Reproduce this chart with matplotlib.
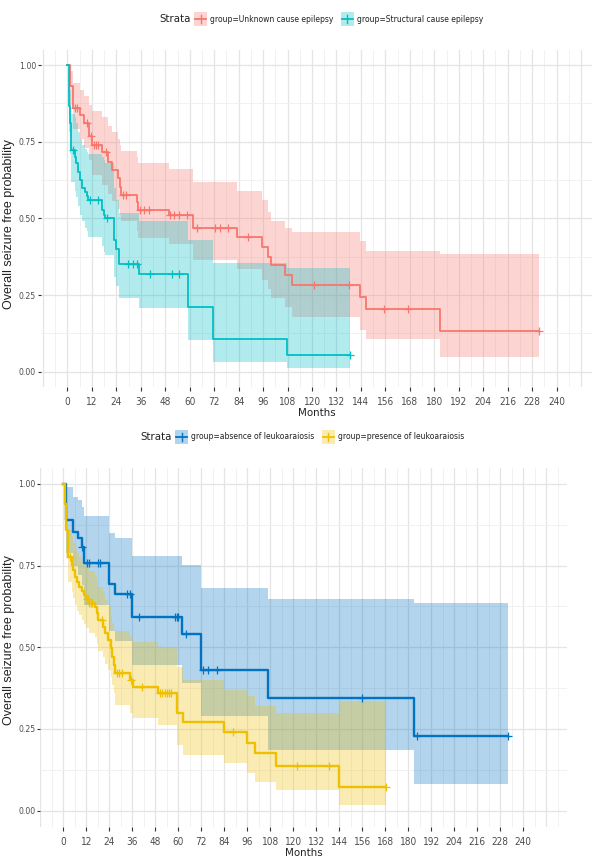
import matplotlib
matplotlib.use("Agg")
import matplotlib.pyplot as plt
import numpy as np
from matplotlib import font_manager

# ---------------- data: top panel (aetiology) ----------------
unk_times = [0, 1.0, 2.9, 5.9, 7.9, 10.6, 12.0, 16.9, 20.1, 21.8, 25.0, 25.9, 26.3, 34.0, 34.5,
             49.6, 61.8, 83.4, 95.3, 98.6, 99.7, 106.8, 110.0, 143.6, 146.3, 182.8]
unk_end = 231.6
unk_surv = [1.0, 0.93, 0.86, 0.837, 0.81, 0.77, 0.74, 0.717, 0.685, 0.658, 0.63, 0.603, 0.576, 0.554, 0.527,
            0.511, 0.467, 0.44, 0.408, 0.375, 0.348, 0.315, 0.283, 0.243, 0.203, 0.133]
unk_upper = [1.0, 0.98, 0.94, 0.92, 0.90, 0.87, 0.85, 0.83, 0.80, 0.78, 0.76, 0.74, 0.72, 0.70, 0.68,
             0.66, 0.62, 0.59, 0.56, 0.52, 0.49, 0.47, 0.456, 0.427, 0.395, 0.384]
unk_lower = [1.0, 0.87, 0.79, 0.76, 0.73, 0.69, 0.64, 0.61, 0.58, 0.555, 0.53, 0.51, 0.49, 0.46, 0.435,
             0.415, 0.365, 0.335, 0.30, 0.27, 0.24, 0.21, 0.178, 0.136, 0.106, 0.049]
unk_censor = [3.8, 4.6, 9.5, 11.4, 13.1, 14.2, 15.2, 19.0, 27.1, 28.7, 35.7, 37.5, 39.8, 50.4, 52.5,
              54.5, 58.6, 63.4, 72.4, 74.8, 78.9, 88.4, 121.0, 138.3, 155.5, 167.3, 231.6]

str_times = [0, 0.5, 1.0, 1.8, 3.5, 4.3, 5.4, 6.2, 7.0, 8.7, 9.5, 10.3, 16.9, 17.7, 18.5, 23.0, 23.8,
             25.2, 35.0, 59.3, 71.6, 107.6]
str_end = 138.6
str_surv = [1.0, 0.868, 0.81, 0.722, 0.70, 0.68, 0.65, 0.625, 0.60, 0.587, 0.573, 0.56, 0.527, 0.51, 0.50,
            0.43, 0.40, 0.351, 0.318, 0.212, 0.107, 0.054]
str_upper = [1.0, 0.96, 0.92, 0.84, 0.83, 0.81, 0.78, 0.76, 0.74, 0.725, 0.715, 0.71, 0.70, 0.69, 0.68,
             0.60, 0.56, 0.518, 0.49, 0.43, 0.355, 0.337]
str_lower = [1.0, 0.78, 0.71, 0.62, 0.59, 0.57, 0.54, 0.51, 0.49, 0.47, 0.46, 0.44, 0.41, 0.39, 0.38,
             0.31, 0.28, 0.24, 0.207, 0.103, 0.033, 0.011]
str_censor = [2.7, 11.1, 15.2, 19.3, 29.9, 32.1, 33.9, 40.4, 51.2, 54.9, 138.6]

# ---------------- data: bottom panel (leukoaraiosis) ----------------
abs_times = [0, 1.4, 5.2, 7.8, 9.6, 10.8, 24.0, 27.0, 35.7, 61.7, 71.7, 107.0, 182.9]
abs_end = 232.2
abs_surv = [1.0, 0.889, 0.854, 0.833, 0.808, 0.757, 0.695, 0.663, 0.594, 0.541, 0.431, 0.346, 0.230]
abs_upper = [1.0, 0.99, 0.96, 0.95, 0.93, 0.902, 0.85, 0.833, 0.78, 0.752, 0.68, 0.649, 0.637]
abs_lower = [1.0, 0.79, 0.75, 0.72, 0.69, 0.63, 0.55, 0.52, 0.446, 0.39, 0.29, 0.186, 0.082]
abs_censor = [9.6, 12.6, 13.4, 18.0, 18.9, 33.1, 34.6, 39.7, 58.3, 59.2, 60.1, 64.0, 72.7, 75.7, 80.0,
              155.6, 184.3, 232.2]

pre_times = [0, 0.7, 1.2, 2.3, 4.4, 5.2, 6.1, 7.0, 8.4, 9.6, 10.8, 12.0, 13.5, 16.5, 17.4, 18.3, 20.5,
             21.8, 23.5, 24.7, 25.5, 26.2, 27.0, 34.8, 36.5, 49.3, 59.2, 62.4, 83.8, 95.7, 100.0,
             110.9, 144.0]
pre_end = 168.3
pre_surv = [1.0, 0.94, 0.86, 0.777, 0.752, 0.736, 0.716, 0.70, 0.685, 0.673, 0.66, 0.648, 0.637, 0.624,
            0.604, 0.583, 0.563, 0.543, 0.522, 0.497, 0.47, 0.445, 0.42, 0.40, 0.38, 0.36, 0.30, 0.27,
            0.242, 0.206, 0.175, 0.138, 0.071]
pre_upper = [1.0, 1.0, 0.93, 0.86, 0.84, 0.82, 0.80, 0.79, 0.775, 0.765, 0.755, 0.745, 0.735, 0.72,
             0.70, 0.685, 0.665, 0.645, 0.625, 0.60, 0.575, 0.55, 0.55, 0.53, 0.517, 0.497, 0.44, 0.40,
             0.37, 0.35, 0.32, 0.298, 0.335]
pre_lower = [1.0, 0.87, 0.78, 0.70, 0.67, 0.65, 0.63, 0.61, 0.60, 0.585, 0.57, 0.56, 0.545, 0.53,
             0.51, 0.49, 0.47, 0.45, 0.43, 0.41, 0.385, 0.36, 0.323, 0.30, 0.283, 0.263, 0.20, 0.17,
             0.145, 0.114, 0.088, 0.063, 0.018]
pre_censor = [3.5, 12.5, 13.0, 13.6, 14.2, 14.8, 20.0, 28.0, 29.0, 30.5, 35.5, 40.8, 50.4, 51.6, 52.8,
              54.0, 55.2, 56.4, 88.7, 121.7, 138.8, 168.3]

x_breaks = list(range(0, 241, 12))
y_breaks = [0.00, 0.25, 0.50, 0.75, 1.00]
y_labels = ["0.00", "0.25", "0.50", "0.75", "1.00"]

top_legend = ["group=Unknown cause epilepsy", "group=Structural cause epilepsy"]
bottom_legend = ["group=absence of leukoaraiosis", "group=presence of leukoaraiosis"]
y_title = "Overall seizure free probability"

# ---------------- fonts ----------------
entries = font_manager.fontManager.ttflist
names = {f.name for f in entries}
cond_dejavu = any(f.name == "DejaVu Sans" and str(f.stretch) in ("condensed", "semi-condensed")
                  for f in entries)
if "Liberation Sans Narrow" in names:
    NARROW = dict(family=["Liberation Sans Narrow", "DejaVu Sans"])
elif cond_dejavu:
    NARROW = dict(family=["DejaVu Sans"], stretch="condensed")
else:
    NARROW = dict(family=["Liberation Sans", "DejaVu Sans"])
SANS = dict(family=["Liberation Sans", "DejaVu Sans"])

# ---------------- figure ----------------
W, H = 592, 860
fig = plt.figure(figsize=(W / 100, H / 100), dpi=100)
fig.patch.set_facecolor("white")
renderer = fig.canvas.get_renderer()

def px_axes(left, right, top, bottom):
    return fig.add_axes([left / W, 1 - bottom / H, (right - left) / W, (bottom - top) / H])

def step_arrays(times, end, vals):
    t = np.array(list(times) + [end], dtype=float)
    v = np.array(list(vals) + [vals[-1]], dtype=float)
    return t, v

def surv_at(times, vals, x):
    idx = np.searchsorted(np.array(times), x, side="right") - 1
    return np.array(vals)[idx]

def draw_group(ax, times, end, surv, upper, lower, censor, color, lw, ms):
    t, s = step_arrays(times, end, surv)
    _, u = step_arrays(times, end, upper)
    _, l = step_arrays(times, end, lower)
    ax.fill_between(t, l, u, step="post", color=color, alpha=0.3, lw=0, zorder=2)
    ax.step(t, s, where="post", color=color, lw=lw, zorder=4)
    cy = surv_at(times, surv, np.array(censor))
    ax.plot(censor, cy, ls="none", marker="+", color=color, ms=ms, mew=0.9, zorder=5)

def style_axes(ax, xlim, ylab_center_px):
    ax.set_xlim(*xlim)
    ax.set_ylim(-0.05, 1.05)
    for sp in ax.spines.values():
        sp.set_visible(False)
    ax.set_facecolor("white")
    for xv in np.arange(-12, xlim[1] + 1, 6):
        major = (xv % 12 == 0)
        ax.axvline(xv, color="#E4E4E4" if major else "#EFEFEF", lw=0.9 if major else 0.6, zorder=0)
    for yv in np.arange(0, 1.01, 0.125):
        major = abs((yv / 0.25) - round(yv / 0.25)) < 1e-6
        ax.axhline(yv, color="#E4E4E4" if major else "#EFEFEF", lw=0.9 if major else 0.6, zorder=0)
    ax.set_xticks(x_breaks)
    ax.set_xticklabels([str(v) for v in x_breaks], fontsize=7.2, color="#4D4D4D", **NARROW)
    ax.set_yticks(y_breaks)
    ax.set_yticklabels(y_labels, fontsize=6.2, color="#4D4D4D", **NARROW)
    ax.tick_params(axis="x", length=3, width=0.8, color="#333333", pad=4, direction="out")
    ax.tick_params(axis="y", length=2.5, width=0.8, color="#333333", pad=1.2, direction="out")
    ax.set_xlabel("Months", fontsize=8.2, color="#222222", labelpad=1, **NARROW)
    fig.text(9.5 / W, 1 - ylab_center_px / H, y_title, rotation=90, fontsize=9.0,
             color="#222222", ha="center", va="center", **SANS)

def key(x_px, y_px, color):
    kw, kh = 13, 14
    fig.patches.append(plt.Rectangle((x_px / W, 1 - (y_px + kh / 2) / H), kw / W, kh / H,
                                     transform=fig.transFigure, color=color, alpha=0.3, lw=0))
    fig.lines.append(plt.Line2D([(x_px + 1) / W, (x_px + kw - 1) / W], [1 - y_px / H] * 2,
                                transform=fig.transFigure, color=color, lw=1.3))
    fig.lines.append(plt.Line2D([(x_px + kw / 2) / W] * 2, [1 - (y_px - 4) / H, 1 - (y_px + 4) / H],
                                transform=fig.transFigure, color=color, lw=1.0))

def legend_row(y_px, center_px, labels, colors):
    items = []
    t0 = fig.text(0, 1 - y_px / H, "Strata", fontsize=8.2, va="center", ha="left",
                  color="#222222", **NARROW)
    items.append(("text", t0, t0.get_window_extent(renderer).width))
    for lab, col in zip(labels, colors):
        items.append(("key", col, 13))
        t = fig.text(0, 1 - y_px / H, lab, fontsize=6.1, va="center", ha="left",
                     color="#222222", **NARROW)
        items.append(("text", t, t.get_window_extent(renderer).width))
    gaps = [4, 3, 7, 3]
    total = sum(it[2] for it in items) + sum(gaps)
    x = center_px - total / 2
    for i, it in enumerate(items):
        if it[0] == "text":
            it[1].set_x(x / W)
        else:
            key(x, y_px, it[1])
        x += it[2] + (gaps[i] if i < len(gaps) else 0)

# ---------------- top panel ----------------
RED = "#F8766D"
TEAL = "#00BFC4"
ax1 = px_axes(41, 592, 49.7, 387)
style_axes(ax1, (-13, 257.4), 224)
draw_group(ax1, unk_times, unk_end, unk_surv, unk_upper, unk_lower, unk_censor, RED, 1.3, 5.5)
draw_group(ax1, str_times, str_end, str_surv, str_upper, str_lower, str_censor, TEAL, 1.3, 5.5)
legend_row(19, 321, top_legend, [RED, TEAL])

# ---------------- bottom panel ----------------
BLUE = "#0073C2"
YEL = "#EFC000"
ax2 = px_axes(40.3, 567, 467.6, 827)
style_axes(ax2, (-12, 262.8), 640)
draw_group(ax2, abs_times, abs_end, abs_surv, abs_upper, abs_lower, abs_censor, BLUE, 1.7, 6)
draw_group(ax2, pre_times, pre_end, pre_surv, pre_upper, pre_lower, pre_censor, YEL, 1.7, 6)
legend_row(437, 302, bottom_legend, [BLUE, YEL])

fig.savefig("out.png", dpi=100, facecolor="white")
